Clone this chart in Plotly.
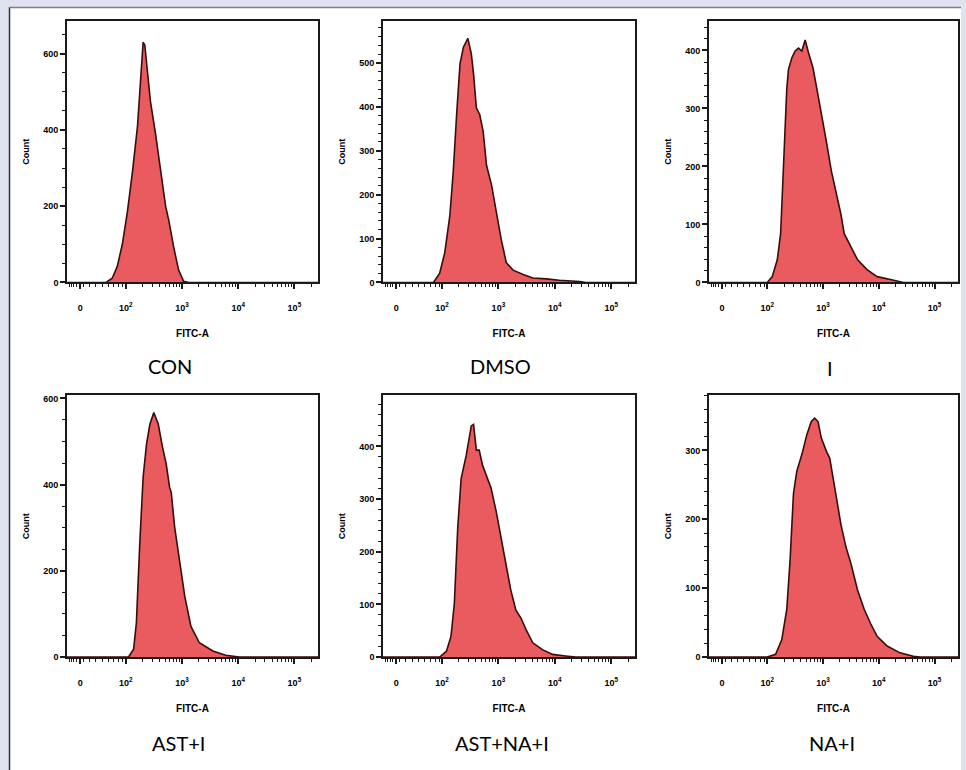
import math
import plotly.graph_objects as go

# ---------------- data (x in log10 decades of FITC-A, y = Count) ----------------
panel_names = ["CON", "DMSO", "I", "AST+I", "AST+NA+I", "NA+I"]

con_x = [0.95, 1.65, 1.76, 1.85, 1.94, 2.03, 2.12, 2.21, 2.26, 2.31, 2.34, 2.38, 2.44, 2.53, 2.62, 2.71, 2.77, 2.85, 2.94, 3.03, 3.12, 5.42]
con_y = [0, 0, 11, 42, 100, 185, 290, 410, 520, 630, 622, 560, 475, 390, 290, 200, 160, 95, 33, 3, 0, 0]

dmso_x = [0.95, 1.85, 1.96, 2.05, 2.14, 2.20, 2.26, 2.32, 2.38, 2.46, 2.52, 2.56, 2.61, 2.67, 2.73, 2.79, 2.88, 2.96, 3.05, 3.14, 3.26, 3.44, 3.61, 3.85, 4.08, 4.44, 4.55, 5.42]
dmso_y = [0, 0, 21, 68, 152, 252, 382, 498, 536, 556, 521, 475, 398, 382, 344, 267, 221, 160, 98, 45, 28, 18, 10, 8, 5, 2, 0, 0]

i_x = [0.95, 2.00, 2.09, 2.18, 2.24, 2.28, 2.32, 2.35, 2.38, 2.44, 2.50, 2.56, 2.62, 2.68, 2.74, 2.79, 2.82, 2.88, 2.97, 3.06, 3.15, 3.24, 3.32, 3.38, 3.50, 3.62, 3.79, 3.97, 4.21, 4.44, 5.42]
i_y = [0, 0, 10, 39, 84, 169, 265, 333, 367, 387, 399, 404, 399, 418, 396, 382, 370, 339, 294, 243, 192, 152, 118, 84, 61, 39, 22, 10, 5, 0, 0]

asti_x = [0.95, 2.05, 2.14, 2.19, 2.25, 2.31, 2.37, 2.43, 2.50, 2.58, 2.65, 2.72, 2.78, 2.81, 2.87, 2.96, 3.05, 3.16, 3.31, 3.55, 3.78, 4.02, 5.42]
asti_y = [0, 0, 18, 79, 263, 417, 494, 540, 567, 540, 490, 448, 394, 382, 302, 217, 141, 71, 33, 14, 4, 0, 0]

astnai_x = [0.95, 1.96, 2.08, 2.16, 2.22, 2.28, 2.34, 2.43, 2.52, 2.56, 2.61, 2.66, 2.72, 2.78, 2.87, 2.96, 3.05, 3.14, 3.22, 3.31, 3.40, 3.49, 3.61, 3.78, 3.96, 4.19, 4.37, 5.42]
astnai_y = [0, 0, 11, 39, 102, 246, 339, 383, 439, 442, 393, 393, 364, 346, 321, 277, 227, 177, 127, 89, 74, 52, 27, 14, 5, 2, 0, 0]

nai_x = [0.95, 2.00, 2.15, 2.26, 2.35, 2.41, 2.47, 2.53, 2.62, 2.71, 2.79, 2.85, 2.91, 2.97, 3.06, 3.12, 3.21, 3.32, 3.41, 3.50, 3.62, 3.74, 3.85, 3.97, 4.15, 4.38, 4.62, 4.74, 5.42]
nai_y = [0, 0, 4, 25, 69, 141, 237, 270, 294, 323, 342, 347, 342, 318, 299, 289, 246, 193, 160, 136, 97, 69, 49, 30, 16, 6, 1, 0, 0]

xs = [con_x, dmso_x, i_x, asti_x, astnai_x, nai_x]
ys = [con_y, dmso_y, i_y, asti_y, astnai_y, nai_y]

# axis settings per panel
y_max = [686, 596, 451, 607, 497, 380]
y_major = [200, 100, 100, 200, 100, 100]
y_minor = [50, 20, 20, 50, 20, 20]

x_tick_vals = [1.19, 2, 3, 4, 5]
x_tick_text = ["0", "10<sup>2</sup>", "10<sup>3</sup>", "10<sup>4</sup>", "10<sup>5</sup>"]
x_range = [0.956, 5.42]

# ---------------- layout geometry (pixels) ----------------
W, H = 966, 770
col_px = [(67, 318), (383, 635), (709, 958)]
row_px = [(19, 283), (397, 661)]
label_pos = [(170, 367), (500, 367), (830, 369), (178, 748), (502, 748), (832, 748)]

lin_minor = [1.0, 1.04, 1.08, 1.12, 1.25, 1.36, 1.47, 1.58, 1.69, 1.79, 1.88, 1.95]
log_minor = [math.log10(k * 10 ** d) for d in (2, 3, 4) for k in range(2, 10)] + [math.log10(2e5)]
x_minor_vals = lin_minor + log_minor

FILL = "#e95b5e"
LINE = "#3a0c0c"
FONT = "Liberation Sans"

fig = go.Figure()
layout = dict(
    width=W, height=H,
    margin=dict(l=0, r=0, t=0, b=0),
    paper_bgcolor="#dfe3f0",
    plot_bgcolor="white",
    showlegend=False,
    shapes=[],
    annotations=[],
)

# white frame
layout["shapes"].append(dict(type="rect", xref="paper", yref="paper",
                             x0=9 / W, x1=961 / W, y0=-0.05, y1=1 - 5 / H,
                             fillcolor="white", line=dict(width=0), layer="below"))
layout["shapes"].append(dict(type="line", xref="paper", yref="paper",
                             x0=9.5 / W, x1=9.5 / W, y0=-0.05, y1=1 - 5 / H,
                             line=dict(color="#333333", width=1.5), layer="below"))
layout["shapes"].append(dict(type="line", xref="paper", yref="paper",
                             x0=9 / W, x1=961 / W, y0=1 - 5.5 / H, y1=1 - 5.5 / H,
                             line=dict(color="#808080", width=1.5), layer="below"))

for idx in range(6):
    r, c = divmod(idx, 3)
    n = idx + 1
    xa = "x" if n == 1 else f"x{n}"
    ya = "y" if n == 1 else f"y{n}"
    fig.add_trace(go.Scatter(
        x=xs[idx], y=ys[idx], xaxis=xa, yaxis=ya, mode="lines",
        fill="tozeroy", fillcolor=FILL,
        line=dict(color=LINE, width=1.6), hoverinfo="skip"))

    x0p, x1p = col_px[c]
    y0p, y1p = row_px[r]
    xdom = [x0p / W, x1p / W]
    ydom = [1 - y1p / H, 1 - y0p / H]

    layout["xaxis" if n == 1 else f"xaxis{n}"] = dict(
        domain=xdom, anchor=ya, range=x_range, fixedrange=True,
        showgrid=False, zeroline=False,
        showline=True, linecolor="#1a1a1a", linewidth=1.6, mirror=True,
        tickmode="array", tickvals=x_tick_vals, ticktext=x_tick_text,
        ticks="outside", ticklen=5, tickwidth=1.5, tickcolor="#1a1a1a",
        ticklabelstandoff=11,
        minor=dict(tickmode="array", tickvals=x_minor_vals, ticks="outside",
                   ticklen=3, tickwidth=1.2, tickcolor="#1a1a1a"),
        tickfont=dict(family=FONT, size=9, color="black", weight="bold"),
        title=dict(text="FITC-A", standoff=18,
                   font=dict(family=FONT, size=10, color="black", weight="bold")),
    )
    layout["yaxis" if n == 1 else f"yaxis{n}"] = dict(
        domain=ydom, anchor=xa, range=[0, y_max[idx]], fixedrange=True,
        showgrid=False, zeroline=False,
        showline=True, linecolor="#1a1a1a", linewidth=1.6, mirror=True,
        tickmode="linear", tick0=0, dtick=y_major[idx],
        ticks="outside", ticklen=5, tickwidth=1.5, tickcolor="#1a1a1a",
        ticklabelstandoff=0,
        minor=dict(dtick=y_minor[idx], ticks="outside", ticklen=3,
                   tickwidth=1.2, tickcolor="#1a1a1a"),
        tickfont=dict(family=FONT, size=9, color="black", weight="bold"),
        title=dict(text="Count", standoff=12,
                   font=dict(family=FONT, size=9, color="black", weight="bold")),
    )

    lx, ly = label_pos[idx]
    layout["annotations"].append(dict(
        text=panel_names[idx], xref="paper", yref="paper",
        x=lx / W, y=1 - ly / H, xanchor="center", yanchor="middle",
        showarrow=False, font=dict(family="Lato", size=20, color="black")))

fig.update_layout(**layout)
fig.write_html("out.html", config={"displayModeBar": False},
               post_script="document.body.style.margin='0';document.body.style.overflow='hidden';")
